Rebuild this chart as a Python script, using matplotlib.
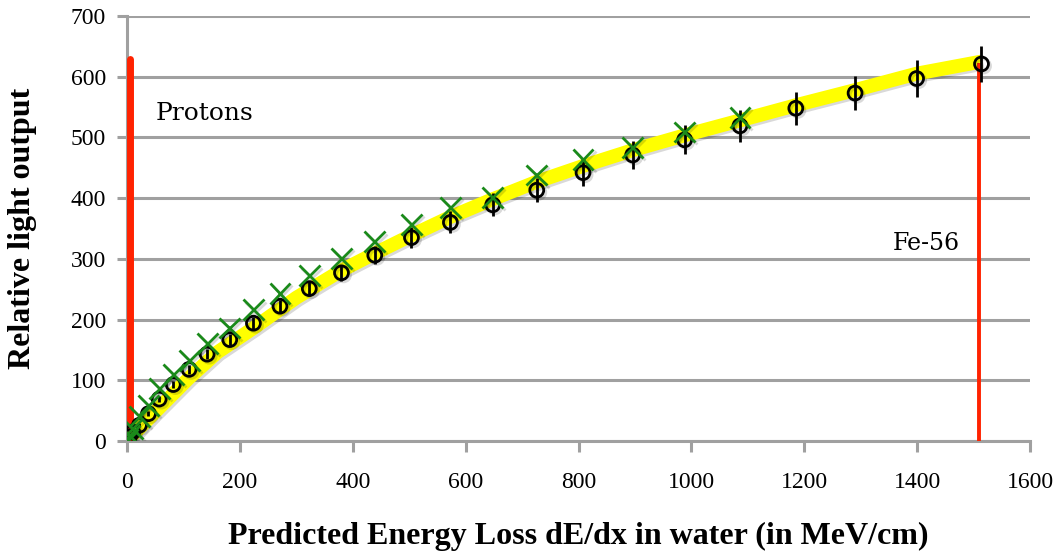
import matplotlib
matplotlib.use("Agg")
import matplotlib.pyplot as plt
import matplotlib.patheffects as pe

# measured light output (circles) with error bars
dedx = [0, 1, 4, 10, 22, 38, 57, 82, 110, 142, 182, 224, 271, 323, 380, 439,
        504, 573, 648, 726, 808, 896, 988, 1086, 1185, 1290, 1399, 1514]
light = [0, 2, 7, 15, 26, 45, 69, 93, 118, 143, 167, 194, 222, 251, 277, 306,
         335, 360, 389, 413, 442, 471, 496, 519, 548, 573, 597, 621]
light_err = [0, 0, 1, 2, 3, 4, 5, 6, 7, 8, 9, 10, 11, 12, 13, 15,
             17, 18, 19, 20, 22, 23, 24, 26, 27, 28, 30, 30]

# model prediction (green crosses)
model_x = [0, 1, 4, 10, 22, 38, 57, 82, 110, 142, 182, 224, 271, 323, 380, 439,
           504, 573, 648, 726, 808, 896, 988, 1086]
model_y = [0, 3, 9, 20, 40, 59, 87, 109, 133, 161, 186, 216, 243, 272, 301, 328,
           357, 385, 401, 438, 464, 484, 509, 533]

# smooth fit (yellow band)
fit_x = [0, 25, 50, 110, 160, 224, 300, 380, 439, 500, 573, 650, 726, 808, 896,
         990, 1090, 1185, 1290, 1399, 1514]
fit_y = [0, 24, 48, 104, 146, 186, 236, 281, 309, 337, 369, 399, 427, 453, 479,
         504, 529, 553, 578, 605, 625]

# markers for the two particle species
proton_x, proton_top = 5, 629
iron_x, iron_top = 1510, 623

plt.rcParams["font.family"] = ["Liberation Serif", "DejaVu Serif"]

fig = plt.figure(figsize=(10.62, 5.55), dpi=100)
ax = fig.add_axes([0.1196, 0.2054, 0.8503, 0.7658])

ax.set_xlim(0, 1600)
ax.set_ylim(0, 700)
ax.set_xticks(range(0, 1601, 200))
ax.set_yticks(range(0, 701, 100))

grid_col = "#a0a0a0"
ax.yaxis.grid(True, color=grid_col, linewidth=2.2)
ax.set_axisbelow(True)
for side in ("top", "right"):
    ax.spines[side].set_visible(False)
for side in ("left", "bottom"):
    ax.spines[side].set_color(grid_col)
    ax.spines[side].set_linewidth(2.2)
ax.tick_params(axis="x", color=grid_col, width=2.2, length=8, pad=14, labelsize=17)
ax.tick_params(axis="y", color=grid_col, width=2.2, length=7, pad=8, labelsize=17)

shadow = [pe.SimpleLineShadow(offset=(1.5, -1.5), alpha=0.15), pe.Normal()]

ax.plot(fit_x, fit_y, color="#ffff00", linewidth=10, solid_capstyle="butt",
        zorder=2, path_effects=shadow)

ax.plot([proton_x, proton_x], [0, proton_top], color="#ff2200", linewidth=5,
        solid_capstyle="round", zorder=3)
ax.plot([iron_x, iron_x], [0, iron_top], color="#ff2200", linewidth=2.8,
        solid_capstyle="butt", zorder=3)

ax.errorbar(dedx, light, yerr=light_err, fmt="none", ecolor="black",
            elinewidth=2, capsize=0, zorder=4)
ax.plot(dedx, light, linestyle="none", marker="o", markersize=10,
        markerfacecolor="none", markeredgecolor="black", markeredgewidth=2,
        zorder=5, path_effects=shadow)
ax.plot(model_x, model_y, linestyle="none", marker="x", markersize=15,
        markeredgecolor="#1a8a1a", markeredgewidth=2, zorder=6,
        path_effects=shadow)

ax.text(50, 540, "Protons", fontsize=18, family=["DejaVu Serif"],
        va="center", ha="left")
ax.text(1475, 325, "Fe-56", fontsize=17, family=["DejaVu Serif"],
        va="center", ha="right")

ax.set_ylabel("Relative light output", fontsize=23, fontweight="bold", labelpad=24)
ax.set_xlabel("Predicted Energy Loss dE/dx in water (in MeV/cm)", fontsize=23,
              fontweight="bold", labelpad=21)

fig.savefig("out.png", dpi=100)
